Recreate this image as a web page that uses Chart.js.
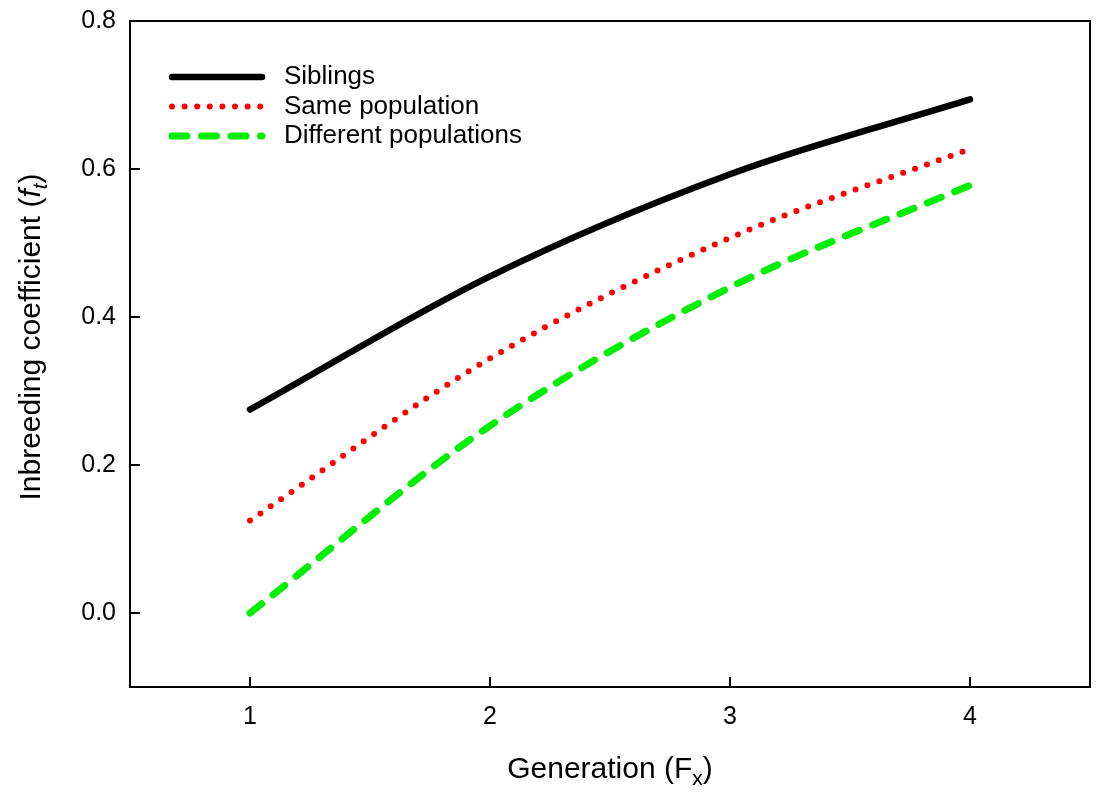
<!doctype html>
<html>
<head>
    <meta charset="utf-8" />
    <title>Inbreeding coefficient</title>
    <script src="https://cdn.jsdelivr.net/npm/chart.js@4.4.1/dist/chart.umd.min.js"></script>
    <style>
        body { margin: 0; background: #fff; }
    </style>
</head>
<body>
    <canvas id="myChart" width="1096" height="793"></canvas>
    <script>
        // values
        var generations = [1, 2, 3, 4];
        var siblings = [0.275, 0.455, 0.593, 0.694];
        var samePopulation = [0.125, 0.344, 0.507, 0.627];
        var differentPopulations = [0.0, 0.253, 0.44, 0.578];
        var seriesNames = ["Siblings", "Same population", "Different populations"];
        var xTicks = [1, 2, 3, 4];
        var yTicks = [0.0, 0.2, 0.4, 0.6, 0.8];

        var FONT = "'Liberation Sans', Arial, sans-serif";

        function toPoints(ys) {
            return generations.map(function (g, i) { return { x: g, y: ys[i] }; });
        }

        // draw a run of text pieces (italic / subscript) starting at x
        function richText(ctx, parts, x, y, size) {
            parts.forEach(function (p) {
                var s = p.sub ? size * 0.7 : size;
                ctx.font = (p.italic ? "italic " : "") + s + "px " + FONT;
                ctx.fillText(p.text, x, y + (p.sub ? size * 0.22 : 0));
                x += ctx.measureText(p.text).width;
            });
        }
        function richWidth(ctx, parts, size) {
            var w = 0;
            parts.forEach(function (p) {
                var s = p.sub ? size * 0.7 : size;
                ctx.font = (p.italic ? "italic " : "") + s + "px " + FONT;
                w += ctx.measureText(p.text).width;
            });
            return w;
        }

        var framePlugin = {
            id: "frame",
            afterDatasetsDraw: function (chart) {
                var ctx = chart.ctx, a = chart.chartArea;
                var xs = chart.scales.x, ys = chart.scales.y;
                ctx.save();
                ctx.strokeStyle = "#000";
                ctx.lineWidth = 2;
                ctx.strokeRect(a.left, a.top, a.right - a.left, a.bottom - a.top);
                // inward ticks
                xTicks.forEach(function (v) {
                    var px = xs.getPixelForValue(v);
                    ctx.beginPath(); ctx.moveTo(px, a.bottom); ctx.lineTo(px, a.bottom - 10); ctx.stroke();
                });
                yTicks.forEach(function (v) {
                    var py = ys.getPixelForValue(v);
                    ctx.beginPath(); ctx.moveTo(a.left, py); ctx.lineTo(a.left + 10, py); ctx.stroke();
                });

                // legend
                ctx.textBaseline = "middle";
                ctx.fillStyle = "#000";
                ctx.font = "26px " + FONT;
                chart.data.datasets.forEach(function (ds, i) {
                    var y = 77 + i * 29.5;
                    ctx.beginPath();
                    ctx.strokeStyle = ds.borderColor;
                    ctx.lineWidth = ds.borderWidth;
                    ctx.lineCap = ds.borderCapStyle;
                    ctx.setLineDash(ds.borderDash || []);
                    ctx.moveTo(172, y); ctx.lineTo(262, y);
                    ctx.stroke();
                    ctx.setLineDash([]);
                    ctx.fillText(ds.label, 284, y);
                });

                // axis titles
                ctx.textBaseline = "alphabetic";
                var xt = [{ text: "Generation (F" }, { text: "x", sub: true }, { text: ")" }];
                var w = richWidth(ctx, xt, 30);
                richText(ctx, xt, (a.left + a.right) / 2 - w / 2, 778, 30);

                var yt = [{ text: "Inbreeding coefficient (" }, { text: "f", italic: true }, { text: "t", italic: true, sub: true }, { text: ")" }];
                w = richWidth(ctx, yt, 30);
                ctx.translate(40, 337);
                ctx.rotate(-Math.PI / 2);
                richText(ctx, yt, -w / 2, 0, 30);
                ctx.restore();
            }
        };

        var chart = new Chart(document.getElementById("myChart"), {
            type: "line",
            data: {
                datasets: [{
                    label: seriesNames[0], data: toPoints(siblings),
                    borderColor: "#000000", borderWidth: 6.5, borderCapStyle: "round",
                    borderDash: [], fill: false
                }, {
                    label: seriesNames[1], data: toPoints(samePopulation),
                    borderColor: "#ff0000", borderWidth: 6, borderCapStyle: "round",
                    borderDash: [0, 12.6], fill: false
                }, {
                    label: seriesNames[2], data: toPoints(differentPopulations),
                    borderColor: "#00ee00", borderWidth: 7, borderCapStyle: "round",
                    borderDash: [15, 14.5], fill: false
                }]
            },
            options: {
                responsive: false,
                animation: false,
                layout: { padding: { top: 6, right: 6, left: 0, bottom: 0 } },
                elements: {
                    point: { radius: 0 },
                    line: { cubicInterpolationMode: "monotone" }
                },
                plugins: {
                    legend: { display: false },
                    tooltip: { enabled: false }
                },
                scales: {
                    x: {
                        type: "linear", min: 0.5, max: 4.5,
                        afterBuildTicks: function (s) { s.ticks = xTicks.map(function (v) { return { value: v }; }); },
                        afterFit: function (s) { s.height = 106; },
                        grid: { display: false },
                        border: { display: false },
                        ticks: { color: "#000", padding: 7, font: { family: FONT, size: 25 } }
                    },
                    y: {
                        min: -0.1, max: 0.8,
                        afterBuildTicks: function (s) { s.ticks = yTicks.map(function (v) { return { value: v }; }); },
                        afterFit: function (s) { s.width = 130; },
                        grid: { display: false },
                        border: { display: false },
                        ticks: {
                            color: "#000", padding: 6, font: { family: FONT, size: 25 },
                            callback: function (v) { return v.toFixed(1); }
                        }
                    }
                }
            },
            plugins: [framePlugin]
        });
    </script>
</body>
</html>
